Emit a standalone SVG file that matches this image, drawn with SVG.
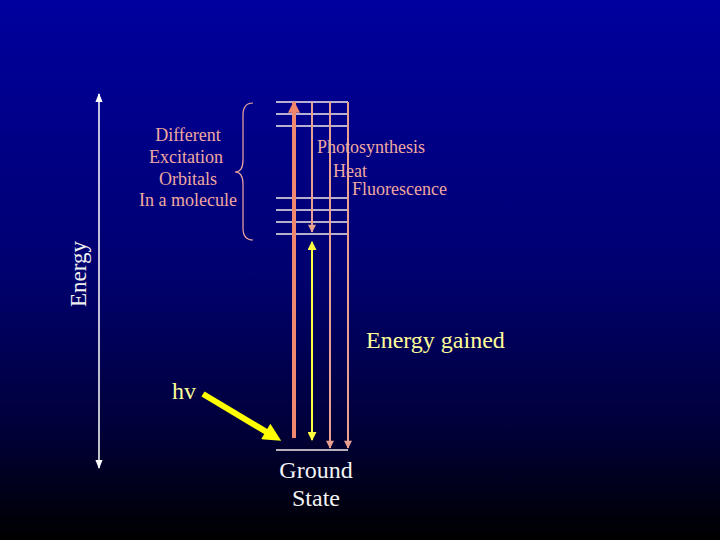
<svg xmlns="http://www.w3.org/2000/svg" width="720" height="540" viewBox="0 0 720 540">
<defs>
<linearGradient id="bg" x1="0" y1="0" x2="0" y2="1">
<stop offset="0" stop-color="#00009e"/>
<stop offset="0.5" stop-color="#000070"/>
<stop offset="0.8" stop-color="#000038"/>
<stop offset="1" stop-color="#000000"/>
</linearGradient>
<marker id="wh" viewBox="0 0 10 10" refX="9" refY="5" markerWidth="9" markerHeight="9" markerUnits="userSpaceOnUse" orient="auto-start-reverse"><path d="M0,1 L10,5 L0,9 Z" fill="#ffffff"/></marker>
<marker id="sal" viewBox="0 0 10 10" refX="9" refY="5" markerWidth="14" markerHeight="12" markerUnits="userSpaceOnUse" orient="auto"><path d="M0,0 L10,5 L0,10 Z" fill="#f08870"/></marker>
<marker id="pk" viewBox="0 0 10 10" refX="9" refY="5" markerWidth="9" markerHeight="8" markerUnits="userSpaceOnUse" orient="auto"><path d="M0,0 L10,5 L0,10 Z" fill="#e8a090"/></marker>
<marker id="yl" viewBox="0 0 10 10" refX="9" refY="5" markerWidth="10" markerHeight="9" markerUnits="userSpaceOnUse" orient="auto-start-reverse"><path d="M0,0 L10,5 L0,10 Z" fill="#ffff40"/></marker>
<marker id="yb" viewBox="0 0 10 10" refX="6" refY="5" markerWidth="20" markerHeight="18" markerUnits="userSpaceOnUse" orient="auto"><path d="M0,0 L10,5 L0,10 Z" fill="#ffff00"/></marker>
</defs>
<style>
.lvl{stroke:#f4e8e8;stroke-width:1.5;fill:none}
.t{font-family:"Liberation Serif",serif}
.pink{fill:#f0a8a0}
</style>
<rect width="720" height="540" fill="url(#bg)"/>
<g id="levels">
<line class="lvl" x1="276" y1="102" x2="348" y2="102"/>
<line class="lvl" x1="276" y1="114" x2="348" y2="114"/>
<line class="lvl" x1="276" y1="126" x2="348" y2="126"/>
<line class="lvl" x1="276" y1="198" x2="348" y2="198"/>
<line class="lvl" x1="276" y1="210" x2="348" y2="210"/>
<line class="lvl" x1="276" y1="222" x2="348" y2="222"/>
<line class="lvl" x1="276" y1="234" x2="348" y2="234"/>
<line class="lvl" x1="276" y1="450" x2="348" y2="450"/>
</g>
<g id="connectors">
<line x1="99" y1="94" x2="99" y2="468" stroke="#ffffff" stroke-width="1.5" marker-start="url(#wh)" marker-end="url(#wh)"/>
<line x1="294" y1="438" x2="294" y2="102" stroke="#f08870" stroke-width="4" marker-end="url(#sal)"/>
<line x1="312" y1="102" x2="312" y2="232" stroke="#e8a090" stroke-width="2" marker-end="url(#pk)"/>
<line x1="330" y1="102" x2="330" y2="448" stroke="#e8a090" stroke-width="2" marker-end="url(#pk)"/>
<line x1="348" y1="102" x2="348" y2="448" stroke="#e8a090" stroke-width="2" marker-end="url(#pk)"/>
<line x1="312" y1="242" x2="312" y2="440" stroke="#ffff40" stroke-width="2" marker-start="url(#yl)" marker-end="url(#yl)"/>
<line x1="203" y1="394" x2="275" y2="437" stroke="#ffff00" stroke-width="6" marker-end="url(#yb)"/>
<path d="M253,103 Q243,103 243,115 L243,160 Q243,172 235,172 Q243,172 243,184 L243,228 Q243,240 253,240" fill="none" stroke="#f0a8a0" stroke-width="1.2"/>
</g>
<g id="energy-axis-label">
<text class="t" x="0" y="0" font-size="23" fill="#f0f0f0" text-anchor="middle" transform="translate(86,274) rotate(-90)">Energy</text>
</g>
<g id="orbitals-label" class="t pink" font-size="18" text-anchor="middle">
<text x="188" y="141">Different</text>
<text x="186" y="163">Excitation</text>
<text x="188" y="185">Orbitals</text>
<text x="188" y="206">In a molecule</text>
</g>
<g id="process-labels" class="t pink" font-size="18">
<text x="317" y="153">Photosynthesis</text>
<text x="333" y="177">Heat</text>
<text x="352" y="195">Fluorescence</text>
</g>
<g id="energy-gained">
<text class="t" x="366" y="348" font-size="24" fill="#ffff99">Energy gained</text>
</g>
<g id="hv">
<text class="t" x="172" y="399" font-size="24" fill="#ffff99">hv</text>
</g>
<g id="ground-state" class="t" font-size="24" fill="#f4f4f4" text-anchor="middle">
<text x="316" y="478">Ground</text>
<text x="316" y="506">State</text>
</g>
</svg>
